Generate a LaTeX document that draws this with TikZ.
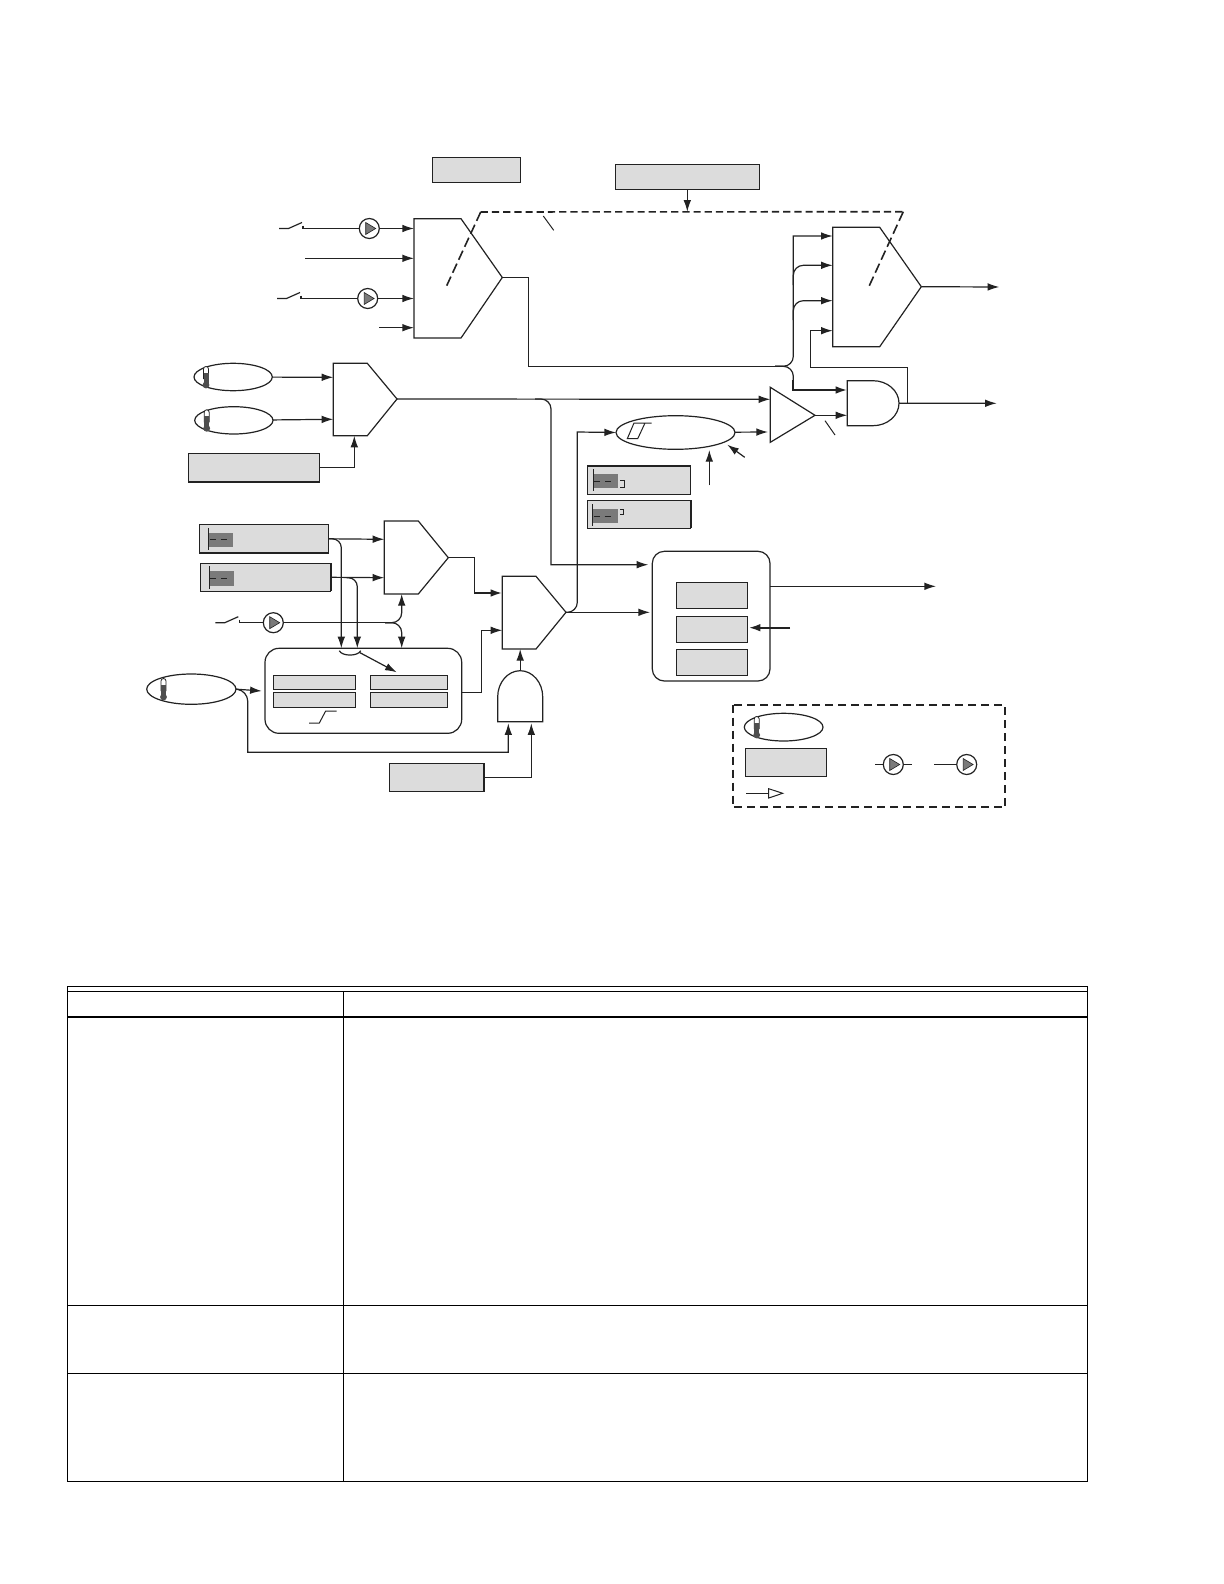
\documentclass[tikz,border=0pt]{standalone}
\usetikzlibrary{arrows.meta,shapes.geometric,calc}
\definecolor{ink}{HTML}{222222}
\definecolor{panel}{HTML}{DCDCDC}
\definecolor{patchgray}{HTML}{7A7A7A}
\tikzset{
  shapeline/.style={draw=ink,line width=0.6pt,line join=miter},
  conn/.style={draw=ink,line width=0.6pt},
  flow/.style={conn,-{Latex[length=5.8pt,width=3.8pt]}},
  heavyflow/.style={draw=ink,line width=1pt,-{Latex[length=5.8pt,width=3.8pt]}},
  panelbox/.style={rectangle,draw=ink,line width=0.6pt,fill=panel,inner sep=0pt,outer sep=0pt},
  roundbox/.style={rectangle,rounded corners=#1,draw=ink,line width=0.6pt,fill=white,inner sep=0pt,outer sep=0pt},
  sensor/.style={ellipse,draw=ink,line width=0.6pt,fill=white,inner sep=0pt,outer sep=0pt},
  pumpring/.style={circle,draw=ink,line width=0.6pt,fill=white,inner sep=0pt,outer sep=0pt,minimum size=10pt},
  setdash/.style={draw=ink,line width=0.8pt,dash pattern=on 3.6pt off 2pt},
  setdashlong/.style={draw=ink,line width=0.8pt,dash pattern=on 5pt off 2.14pt},
  gridline/.style={draw=black,line width=0.65pt},
  gridheavy/.style={draw=black,line width=1.3pt},
}
% name, style, x1, y1, x2, y2 (in reference pixels)
\newcommand{\pxnode}[6]{%
  \pgfmathsetmacro\bxX{(#3+#5)/2}\pgfmathsetmacro\bxY{(#4+#6)/2}%
  \pgfmathsetmacro\bxW{(#5-#3)*0.5}\pgfmathsetmacro\bxH{(#6-#4)*0.5}%
  \node[#2,minimum width=\bxW pt,minimum height=\bxH pt] (#1) at (\bxX,\bxY) {};}
% name, x, y : pump symbol
\newcommand{\pump}[3]{%
  \node[pumpring] (#1) at (#2,#3) {};
  \begin{scope}[shift={(#2,#3)}]
    \fill[patchgray] (-3.6,-6) -- (6.4,0) -- (-3.6,6) -- cycle;
    \draw[draw=ink,line width=0.3pt] (-3.6,-6) -- (6.4,0) -- (-3.6,6) -- cycle;
  \end{scope}}
% x, y : thermometer symbol
\newcommand{\thermo}[2]{%
  \begin{scope}[shift={(#1,#2)}]
    \draw[draw=ink,line width=0.4pt,fill=white] (-2.5,2) -- (-2.5,-8) arc[start angle=180,end angle=0,radius=1.25pt] -- (2.5,2);
    \fill[ink!80] (-2.5,-4) rectangle (2.5,8);
    \fill[ink!80] (0,8) circle[radius=1.7pt];
  \end{scope}}
% x, y, w, h: dark setpoint patch with bar and dashes
\newcommand{\setmark}[4]{%
  \fill[patchgray] (#1,#2) rectangle ++(#3,#4);
  \draw[draw=ink,line width=0.5pt] (#1,#2-5) -- (#1,#2+#4+3);
  \draw[draw=ink,line width=0.5pt] (#1+1,#2+#4/2) -- (#1+7,#2+#4/2);
  \draw[draw=ink,line width=0.5pt] (#1+12,#2+#4/2) -- (#1+18,#2+#4/2);}
% x, y, pump node of a switch
\newcommand{\switchmark}[3]{%
  \draw[conn] (#1,#2) -- (#1+9.5,#2) -- (#1+23,#2-6);
  \draw[conn] (#1+24,#2-3) -- (#1+24,#2) -- (#3);}
\begin{document}
\begin{tikzpicture}[x=0.5pt,y=-0.5pt]
\useasboundingbox (0,0) rectangle (1224,1584);

% ---------- selector shapes
\draw[shapeline] (414,218.7) -- (461,218.7) -- (502.3,277.5) coordinate (m1tip) -- (461,338) -- (414,338) -- cycle;
\draw[shapeline] (832.7,227.3) -- (879.7,227.3) -- (921.3,286.7) coordinate (m2tip) -- (879.7,346.7) -- (832.7,346.7) -- cycle;
\draw[shapeline] (333.3,363.3) -- (367.3,363.3) -- (397,399) coordinate (m3tip) -- (367.3,435.7) -- (333.3,435.7) -- cycle;
\draw[shapeline] (384.3,521) -- (418.3,521) -- (448.3,557.7) coordinate (m4tip) -- (418.3,594) -- (384.3,594) -- cycle;
\draw[shapeline] (502.3,576.3) -- (536,576.3) -- (566,612.3) coordinate (m5tip) -- (536,649) -- (502.3,649) -- cycle;
\draw[shapeline] (770.3,387.3) -- (815,415.3) coordinate (cmptip) -- (770.3,442.3) -- cycle;
\draw[shapeline] (847.3,380.7) -- (873,380.7) .. controls (887.4,380.7) and (899,390.8) .. (899,403.2) coordinate (and1tip) .. controls (899,415.6) and (887.4,425.7) .. (873,425.7) -- (847.3,425.7) -- cycle;
\draw[shapeline] (497.7,721.7) -- (497.7,696.7) .. controls (497.7,682.6) and (507.8,670.7) .. (520.2,670.7) coordinate (and2tip) .. controls (532.6,670.7) and (542.7,682.6) .. (542.7,696.7) -- (542.7,721.7) -- cycle;

% ---------- pins
\coordinate (m1a) at (414,228.5);
\coordinate (m1b) at (414,258.3);
\coordinate (m1c) at (414,298.5);
\coordinate (m1d) at (414,327.7);
\coordinate (m2a) at (832.7,236);
\coordinate (m2b) at (832.7,265.3);
\coordinate (m2c) at (832.7,300.7);
\coordinate (m2d) at (832.7,330.7);
\coordinate (m3a) at (333.3,377.3);
\coordinate (m3b) at (333.3,419.3);
\coordinate (m3c) at (354.3,435.7);
\coordinate (m4a) at (384.3,539.3);
\coordinate (m4b) at (384.3,577.7);
\coordinate (m4c) at (401.7,594);
\coordinate (m5a) at (502.3,593);
\coordinate (m5b) at (502.3,630.3);
\coordinate (m5c) at (520.2,649);
\coordinate (and1a) at (847.3,390);
\coordinate (and1b) at (847.3,415.3);
\coordinate (and2a) at (508.3,723.3);
\coordinate (and2b) at (531.3,723.3);
\coordinate (cmpa) at (770.3,399.3);
\coordinate (cmpb) at (768,432);
\coordinate (dsp) at (687.3,211.7);
\coordinate (out1) at (999.3,287);
\coordinate (out2) at (996.7,403.3);
\coordinate (out3) at (936,586.3);
\coordinate (lin2) at (305,258.3);
\coordinate (lin4) at (379.3,327.7);
\coordinate (fpinA) at (341.3,648.3);
\coordinate (fpinB) at (357.3,648.3);
\coordinate (fpinC) at (401.7,648.3);
\coordinate (fpinD) at (261.7,691);
\coordinate (hpinA) at (648.3,564.7);
\coordinate (hpinB) at (650,612.3);
\coordinate (hpinC) at (748.7,627.7);
\coordinate (hfree) at (790,627.7);
\coordinate (elA) at (709.3,450);
\coordinate (elAfree) at (709.3,485.3);
\coordinate (elB) at (727.3,444.7);
\coordinate (elBfree) at (744.7,457.3);

% ---------- boxes and ellipses
\pxnode{ba}{panelbox}{432.5}{157.5}{520.5}{182.4}
\pxnode{bb}{panelbox}{615.3}{164.3}{759.7}{189.3}
\pxnode{bc}{panelbox}{188.3}{453.3}{319.7}{482.3}
\pxnode{bd}{panelbox}{199.3}{524.3}{328.7}{553.3}
\pxnode{be}{panelbox}{200.3}{563.3}{330.7}{591.3}
\pxnode{bf}{panelbox}{587.3}{465.7}{690.7}{494.7}
\pxnode{bg}{panelbox}{587.3}{500.3}{690.7}{528.3}
\pxnode{bh}{panelbox}{389.3}{763.3}{484.3}{791.7}
\draw[draw=ink,line width=1.1pt] (bc.south west) -- (bc.south east);
\draw[draw=ink,line width=1.1pt] (bd.south west) -- (bd.south east);
\draw[draw=ink,line width=1.1pt] (be.north east) -- (be.south east);
\draw[draw=ink,line width=1.1pt] (bg.north east) -- (bg.south east);
\draw[draw=ink,line width=1.1pt] (bh.north east) -- (bh.south east);
\draw[draw=ink,line width=1.1pt] (bf.north west) -- (bf.north east);

\setmark{208.7}{533}{24}{13.7}
\setmark{209.3}{571}{24.7}{14.7}
\setmark{593.3}{474}{24.7}{14}
\setmark{592.7}{509}{25.3}{14}
\draw[draw=ink,line width=0.5pt] (620,480) -- (624,480) -- (624,487.3) -- (620,487.3);
\draw[draw=ink,line width=0.5pt] (620,509.3) -- (623.7,509.3) -- (623.7,514.3) -- (620,514.3);

\pxnode{tc}{sensor}{194}{363.3}{272.3}{390.7}
\pxnode{td}{sensor}{194.7}{406.7}{273}{434}
\pxnode{te}{sensor}{146.7}{674}{236}{704.3}
\pxnode{tl}{sensor}{744.3}{713.3}{823}{741}
\pxnode{hy}{sensor}{616}{415.7}{735}{449.3}
\thermo{206}{377}
\thermo{206.7}{420.3}
\thermo{163.5}{689}
\thermo{756.7}{727}
\draw[draw=ink,line width=0.5pt] (651.7,423) -- (634,423) -- (627.3,438.7) -- (637.7,438.7) -- (645,423);

% rounded block F
\pxnode{rf}{roundbox=7pt}{265}{648.3}{461.7}{733.3}
\pxnode{fa}{panelbox}{273.3}{675.3}{355.7}{689.7}
\pxnode{fb}{panelbox}{273.3}{692.3}{355.7}{707.7}
\pxnode{fc}{panelbox}{370.3}{675.3}{447.7}{689.7}
\pxnode{fd}{panelbox}{370.3}{692.3}{447.7}{707.7}
\draw[draw=ink,line width=0.5pt] (309,723) -- (319.3,723) -- (325.7,711) -- (336.7,711);
\draw[conn] (339.3,650.7) .. controls (342,656.5) and (358,656.5) .. (360.7,650.7);
\coordinate (bracefoot) at (360,652.7);
\coordinate (bracetip) at (396.7,672.3);
\draw[flow] (bracefoot) -- (bracetip);

% rounded block H
\pxnode{rh}{roundbox=6pt}{652.3}{551.3}{770}{681}
\pxnode{ha}{panelbox}{676.3}{582.3}{747.7}{608.3}
\pxnode{hb}{panelbox}{676.3}{616.3}{747.7}{642.3}
\pxnode{hc}{panelbox}{676.3}{649.3}{747.7}{675.3}

% ---------- setpoint dashed link
\draw[setdashlong] (446.7,285.7) -- (480.7,212);
\draw[setdash] (480.7,212) -- (903.3,211.7);
\draw[setdashlong] (869.3,285.7) -- (903.3,211.7);
\draw[draw=ink,line width=0.5pt] (543.3,216) -- (553.7,230.3);
\draw[flow] (bb.south -| dsp) -- (dsp);

% ---------- inputs top selector
\pump{pa}{369.3}{228.5}
\pump{pb}{367.7}{298.5}
\pump{pc}{273.3}{622.7}
\switchmark{279}{228.5}{pa}
\switchmark{277}{298.5}{pb}
\switchmark{215.3}{622.7}{pc}
\draw[flow] (pa) -- (m1a);
\draw[flow] (pb) -- (m1c);
\draw[flow] (lin2) -- (m1b);
\draw[flow] (lin4) -- (m1d);

% main output of selector 1
\draw[conn] (m1tip) -- (528.5,277.5) -- (528.5,366.3) -- (775,366.3);
\draw[flow,rounded corners=5pt] (775,366.3) -- (793.3,366.3) -- (793.3,300) [sharp corners] -- (793.3,236) -- (m2a);
\draw[flow,rounded corners=5pt] (793.3,285) -- (793.3,265.3) -- (m2b);
\draw[flow,rounded corners=5pt] (793.3,320) -- (793.3,300.7) -- (m2c);
\draw[conn,rounded corners=5pt] (775,366.3) -- (793.3,366.3) -- (793.3,385);
\draw[heavyflow] (793.3,380) -- (793.3,390) -- (and1a);
\draw[flow] (m2tip) -- (out1);

% AND 1
\draw[flow] (cmptip) -- (and1b);
\draw[flow] (and1tip) -- (out2);
\draw[draw=ink,line width=0.5pt] (825,420.7) -- (835,435);
\draw[flow] (907.7,403.3) -- (907.7,367.7) -- (810.7,367.7) -- (810.7,330.7) -- (m2d);

% selector 3
\draw[flow] (tc) -- (m3a);
\draw[flow] (td) -- (m3b);
\draw[flow] (bc.east) -| (m3c);
\draw[flow] (m3tip) -- (cmpa);
\draw[flow,rounded corners=5pt] (535,399) -- (551,399) -- (551,450) [sharp corners] -- (551,564.7) -- (hpinA);

% hysteresis
\draw[flow] (hy) -- (cmpb);
\draw[flow] (elAfree) -- (elA);
\draw[flow] (elBfree) -- (elB);

% selector 4
\draw[flow] (bd.east) -- (m4a);
\draw[flow] (be.east) -- (m4b);
\draw[flow,rounded corners=4.5pt] (bd.east) -- (bd.east -| fpinA) -- (fpinA);
\draw[flow,rounded corners=4.5pt] (346.7,577.7) -- (357.3,577.7) -- (fpinB);
\draw[conn] (pc) -- (385,622.7);
\draw[flow,rounded corners=5pt] (385,622.7) -- (401.7,622.7) -- (m4c);
\draw[flow,rounded corners=5pt] (385,622.7) -- (401.7,622.7) -- (fpinC);

% selector 5
\draw[conn] (m4tip) -- (474.3,557.7) -- (474.3,593);
\draw[heavyflow] (474.3,593) -- (m5a);
\draw[flow] (rf.east |- 0,692.3) -- (481.3,692.3) -- (481.3,630.3) -- (m5b);
\draw[flow] (and2tip) -- (m5c);
\draw[flow,rounded corners=5pt] (m5tip) -- (577.3,612.3) -- (577.3,580) [sharp corners] -- (577.3,432) -- (hy.west);
\draw[flow] (m5tip) -- (hpinB);

% AND 2 inputs
\draw[flow] (te.east) -- (fpinD);
\draw[flow,rounded corners=5pt] (te.east) -- (247.7,691) -- (247.7,730) [sharp corners] -- (247.7,752.3) -- (508.3,752.3) -- (and2a);
\draw[flow] (bh.east) -| (and2b);

% block H
\draw[flow] (rh.east |- out3) -- (out3);
\draw[heavyflow] (hfree) -- (hpinC);

% ---------- legend
\draw[draw=ink,line width=0.9pt,dash pattern=on 4pt off 2.5pt] (732.7,704.7) rectangle (1005.3,807.3);
\pxnode{lb}{panelbox}{745.3}{748.3}{826.7}{776.3}
\coordinate (lga) at (875,764.5);
\coordinate (lgb) at (912,764.5);
\coordinate (lgc) at (934,764.5);
\draw[conn] (lga) -- (lgb);
\pump{lpa}{893.3}{764.5}
\pump{lpb}{966.7}{764.5}
\draw[conn] (lgc) -- (lpb);
\coordinate (lgd) at (746,793.3);
\coordinate (lge) at (768.7,793.3);
\draw[conn] (lgd) -- (lge);
\draw[shapeline,line width=0.5pt] (768.7,788.7) -- (782.7,793.3) -- (768.7,798) -- cycle;

% ---------- table
\draw[gridline] (67.3,986.3) rectangle (1087.3,1481.7);
\draw[gridline] (67.3,991.3) -- (1087.3,991.3);
\draw[gridheavy] (67.3,1017) -- (1087.3,1017);
\draw[gridline] (343.7,991.3) -- (343.7,1481.7);
\draw[gridline] (67.3,1305.3) -- (1087.3,1305.3);
\draw[gridline] (67.3,1373.3) -- (1087.3,1373.3);
\end{tikzpicture}
\end{document}
